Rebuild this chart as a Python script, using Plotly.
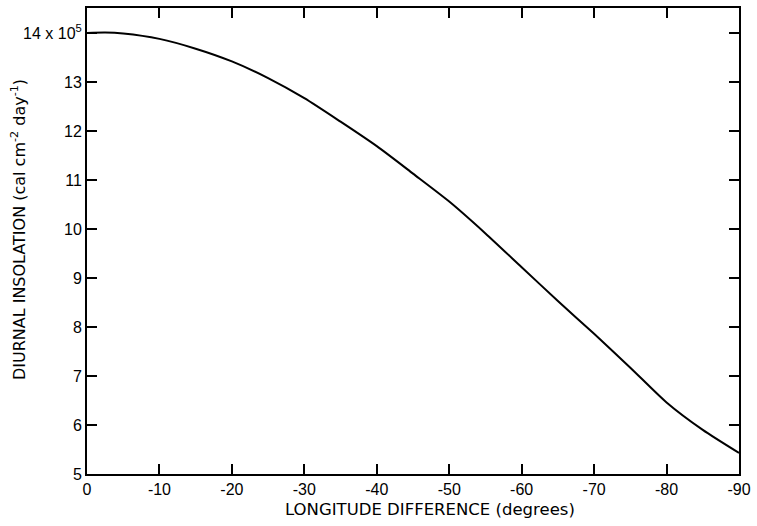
import plotly.graph_objects as go

# Data
longitude_diff = [0, -2.5, -5, -10, -15, -20, -25, -30, -35, -40, -45, -50,
                  -55, -60, -65, -70, -75, -80, -85, -90]
insolation = [14.00, 14.01, 13.99, 13.88, 13.68, 13.42, 13.08, 12.67, 12.19,
              11.69, 11.13, 10.56, 9.91, 9.22, 8.53, 7.86, 7.17, 6.46, 5.90, 5.43]

x_ticks = [0, -10, -20, -30, -40, -50, -60, -70, -80, -90]
x_ticklabels = ["0", "-10", "-20", "-30", "-40", "-50", "-60", "-70", "-80", "-90"]
y_ticks = [5, 6, 7, 8, 9, 10, 11, 12, 13, 14]
y_ticklabels = ["5", "6", "7", "8", "9", "10", "11", "12", "13", "14 x 10<sup>5</sup>"]
x_title = "LONGITUDE DIFFERENCE (degrees)"
y_title = "DIURNAL INSOLATION (cal cm<sup>-2</sup> day<sup>-1</sup>)"

W, H = 757, 526
ML, MR, MT, MB = 87, 8, 6, 52
PW, PH = W - ML - MR, H - MT - MB

fig = go.Figure()
fig.add_trace(go.Scatter(
    x=longitude_diff, y=insolation, mode="lines",
    line=dict(color="black", width=2, shape="spline", smoothing=0.7),
    showlegend=False, hoverinfo="skip"))

tick_font = dict(family="Liberation Sans, Arial, sans-serif", size=16, color="black")
xtitle_font = dict(family="DejaVu Sans, sans-serif", size=16.5, color="black")
ytitle_font = dict(family="DejaVu Sans, sans-serif", size=16, color="black")

fig.update_layout(
    width=W, height=H,
    margin=dict(l=ML, r=MR, t=MT, b=MB),
    paper_bgcolor="white", plot_bgcolor="white",
    font=tick_font,
    xaxis=dict(
        range=[0, -90], tickvals=x_ticks, ticktext=x_ticklabels,
        ticks="inside", ticklen=10, tickwidth=1.5, tickcolor="black",
        showline=True, linecolor="black", linewidth=2, mirror="ticks",
        showgrid=False, zeroline=False, ticklabeloverflow="allow",
        tickfont=tick_font,
    ),
    yaxis=dict(
        range=[5, 14.51], tickvals=y_ticks, ticktext=y_ticklabels,
        ticks="inside", ticklen=10, tickwidth=1.5, tickcolor="black",
        showline=True, linecolor="black", linewidth=2, mirror="ticks",
        showgrid=False, zeroline=False, ticklabeloverflow="allow",
        tickfont=tick_font,
    ),
    annotations=[
        dict(text=x_title, font=xtitle_font, showarrow=False,
             xref="paper", yref="paper",
             x=(435 - ML) / PW, y=-(498 - (H - MB)) / PH,
             xanchor="center", yanchor="top"),
        dict(text=y_title, font=ytitle_font, showarrow=False, textangle=-90,
             xref="paper", yref="paper",
             x=-(ML - 17) / PW, y=((H - MB) - 229) / PH,
             xanchor="center", yanchor="middle"),
    ],
)

fig.write_html("out.html")
